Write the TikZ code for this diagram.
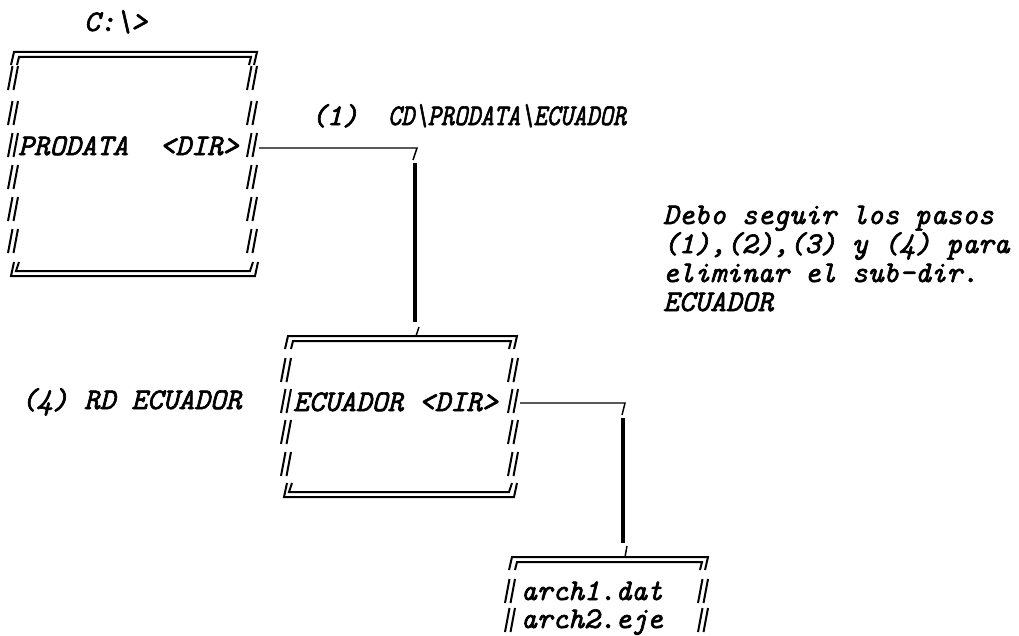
\documentclass[tikz,border=0pt]{standalone}
\usepackage{fontspec}
\newfontfamily\typew{lmmono10}[Extension=.otf, UprightFont=*-regular, ItalicFont=*-italic, ItalicFeatures={FakeBold=2.2}]
\newcommand\dirtop[3]{% L R T
  \draw[fr] ({#1-3},{#3+13}) -- (#1,#3) -- (#2,#3) -- ({#2-3},{#3+13});
  \draw[fr] ({#1+3},{#3+13}) -- ({#1+5},{#3+5}) -- ({#2-6},{#3+5}) -- ({#2-8},{#3+13});
}
\newcommand\dirbot[3]{% L R B
  \draw[fr] ({#1-1},{#3-14}) -- ({#1-4},#3) -- ({#2-4},#3) -- ({#2-1},{#3-14});
  \draw[fr] ({#1+4},{#3-14}) -- ({#1+1},{#3-5}) -- ({#2-9},{#3-5}) -- ({#2-6},{#3-14});
}
\begin{document}
\begin{tikzpicture}[x=0.75pt,y=-0.75pt,
  fr/.style={line width=1.5pt},
  conthin/.style={line width=1.1pt},
  conthick/.style={line width=3.6pt},
  txt/.style={font=\typew\itshape\fontsize{22.5}{26}\selectfont, anchor=base west, inner sep=0pt, outer sep=0pt},
  dbl/.pic={\draw[fr] (-5,12) -- (-0.5,-12); \draw[fr] (0.5,12) -- (5,-12);}
]
\useasboundingbox (0,0) rectangle (1019,635);

% ---- box 1: PRODATA
\dirtop{14}{257}{52}
\dirbot{15}{259}{276}
\foreach \yy in {78,113,145,177,209,241} {
  \pic at (13,\yy) {dbl};
  \pic at (252,\yy) {dbl};
}
\node[txt] (croot) at (84,31) {C:\textbackslash>};
\node[txt] (prod) at (18,155) {PRODATA\ \ <DIR>};

% ---- box 2: ECUADOR
\dirtop{288}{517}{336}
\dirbot{288}{518}{497}
\foreach \yy in {370,401,432,464} {
  \pic at (286,\yy) {dbl};
  \pic at (513,\yy) {dbl};
}
\node[txt] (ecu) at (293,411) {ECUADOR <DIR>};

% ---- box 3: files
\dirtop{512}{708}{557}
\foreach \yy in {591,620} {
  \pic at (510,\yy) {dbl};
  \pic at (703,\yy) {dbl};
}
\node[txt] (a1) at (521,600) {arch1.dat};
\node[txt] (a2) at (521,628) {arch2.eje};

% ---- labels
\node[txt] (step1n) at (311,125) {(1)};
\node[txt] (step1c) at (388,125) {\scalebox{0.84}[1]{CD\textbackslash PRODATA\textbackslash ECUADOR}};
\node[txt] (step4) at (21,409) {(4) RD ECUADOR};
\node[txt] (n1) at (663,224) {Debo seguir los pasos};
\node[txt] (n2) at (663,253) {(1),(2),(3) y (4) para};
\node[txt] (n3) at (663,282) {eliminar el sub-dir.};
\node[txt] (n4) at (663,311) {ECUADOR};

% ---- connector 1
\coordinate (p1a) at (259,148);
\coordinate (p1b) at (417,148);
\coordinate (p1c) at (413,160);
\coordinate (p1d) at (415,163);
\coordinate (p1e) at (415,322);
\coordinate (p1f) at (419,327);
\coordinate (p1g) at (416,336);
\draw[conthin] (p1a) -- (p1b) -- (p1c);
\draw[conthick] (p1d) -- (p1e);
\draw[conthin] (p1f) -- (p1g);

% ---- connector 2
\coordinate (p2a) at (520,403);
\coordinate (p2b) at (625,403);
\coordinate (p2c) at (622,415);
\coordinate (p2d) at (623,418);
\coordinate (p2e) at (623,543);
\coordinate (p2f) at (627,546);
\coordinate (p2g) at (625,557);
\draw[conthin] (p2a) -- (p2b) -- (p2c);
\draw[conthick] (p2d) -- (p2e);
\draw[conthin] (p2f) -- (p2g);
\end{tikzpicture}
\end{document}
